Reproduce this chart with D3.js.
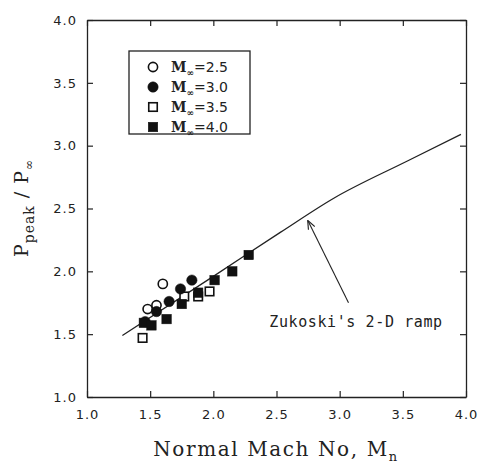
<!DOCTYPE html>
<html>
<head>
  <script src="https://d3js.org/d3.v7.min.js"></script>
  <style>
    body { margin: 0; background: #fff; }
    text { fill: #222; }
  </style>
</head>
<body>
<div id="chart"></div>
<script>
// data
var m25 = [[1.48, 1.70], [1.55, 1.73], [1.60, 1.90]];
var m30 = [[1.46, 1.60], [1.55, 1.68], [1.65, 1.76], [1.74, 1.86], [1.83, 1.93]];
var m35 = [[1.44, 1.47], [1.77, 1.80], [1.88, 1.80], [1.97, 1.84]];
var m40 = [[1.45, 1.59], [1.51, 1.57], [1.63, 1.62], [1.75, 1.74], [1.88, 1.83], [2.01, 1.93], [2.15, 2.00], [2.28, 2.13]];
var zukoski = [[1.28, 1.49], [2.0, 1.96], [2.53, 2.31], [2.95, 2.58], [3.54, 2.88], [3.96, 3.09]];
var ticks = [1.0, 1.5, 2.0, 2.5, 3.0, 3.5, 4.0];
var legendLabels = ["2.5", "3.0", "3.5", "4.0"];

var width = 481, height = 466;
var margin = { top: 20, right: 15, bottom: 69, left: 87 };

var svg = d3.select("#chart").append("svg")
  .attr("width", width)
  .attr("height", height);

var x = d3.scaleLinear().domain([1, 4]).range([margin.left, width - margin.right]);
var y = d3.scaleLinear().domain([1, 4]).range([height - margin.bottom, margin.top]);

var ink = "#222";

// frame with inward ticks
function styleAxis(g) {
  g.select(".domain").attr("stroke", ink).attr("stroke-width", 1.3);
  g.selectAll(".tick line").attr("stroke", ink).attr("stroke-width", 1.2);
  g.selectAll(".tick text")
    .style("font-family", "DejaVu Sans")
    .style("font-size", "13px")
    .style("letter-spacing", "1px")
    .attr("fill", ink);
}

svg.append("g")
  .attr("transform", "translate(0," + y(1) + ")")
  .call(d3.axisBottom(x).tickValues(ticks).tickFormat(d3.format(".1f")).tickSizeInner(-6).tickSizeOuter(0).tickPadding(13))
  .call(styleAxis);
svg.append("g")
  .attr("transform", "translate(0," + y(4) + ")")
  .call(d3.axisTop(x).tickValues(ticks).tickFormat("").tickSizeInner(-6).tickSizeOuter(0))
  .call(styleAxis);
svg.append("g")
  .attr("transform", "translate(" + x(1) + ",0)")
  .call(d3.axisLeft(y).tickValues(ticks).tickFormat(d3.format(".1f")).tickSizeInner(-6).tickSizeOuter(0).tickPadding(10))
  .call(styleAxis);
svg.append("g")
  .attr("transform", "translate(" + x(4) + ",0)")
  .call(d3.axisRight(y).tickValues(ticks).tickFormat("").tickSizeInner(-6).tickSizeOuter(0))
  .call(styleAxis);

// Zukoski line
var line = d3.line()
  .x(function(d) { return x(d[0]); })
  .y(function(d) { return y(d[1]); })
  .curve(d3.curveMonotoneX);
svg.append("path")
  .datum(zukoski)
  .attr("d", line)
  .attr("fill", "none")
  .attr("stroke", ink)
  .attr("stroke-width", 1.3);

// markers
function drawMarkers(data, shape, filled) {
  var g = svg.append("g");
  data.forEach(function(d) {
    var cx = x(d[0]), cy = y(d[1]);
    var m;
    if (shape === "circle") {
      m = g.append("circle").attr("cx", cx).attr("cy", cy).attr("r", filled ? 5.2 : 4.6);
    } else {
      var s = filled ? 9.5 : 8.5;
      m = g.append("rect").attr("x", cx - s / 2).attr("y", cy - s / 2).attr("width", s).attr("height", s);
    }
    m.attr("fill", filled ? "#111" : "#fff")
      .attr("stroke", "#111")
      .attr("stroke-width", filled ? 0.5 : 1.6);
  });
}
drawMarkers(m25, "circle", false);
drawMarkers(m35, "rect", false);
drawMarkers(m30, "circle", true);
drawMarkers(m40, "rect", true);

// annotation
svg.append("defs").append("marker")
  .attr("id", "arr")
  .attr("viewBox", "0 0 10 10")
  .attr("refX", 9).attr("refY", 5)
  .attr("markerWidth", 8).attr("markerHeight", 8)
  .attr("orient", "auto")
  .append("path").attr("d", "M0,1 L10,5 L0,9").attr("fill", "none").attr("stroke", ink).attr("stroke-width", 1.3);

svg.append("line")
  .attr("x1", x(3.07)).attr("y1", y(1.75))
  .attr("x2", x(2.75)).attr("y2", y(2.40))
  .attr("stroke", ink).attr("stroke-width", 1.1)
  .attr("marker-end", "url(#arr)");

svg.append("text")
  .attr("x", 356).attr("y", 327)
  .attr("text-anchor", "middle")
  .style("font-family", "DejaVu Sans Mono")
  .style("font-size", "15px")
  .style("letter-spacing", "0.6px")
  .text("Zukoski's 2-D ramp");

// legend
var lg = svg.append("g");
lg.append("rect")
  .attr("x", 129).attr("y", 51).attr("width", 121).attr("height", 83)
  .attr("fill", "#fff").attr("stroke", ink).attr("stroke-width", 1.3);
var legendShapes = [["circle", false], ["circle", true], ["rect", false], ["rect", true]];
legendLabels.forEach(function(lab, i) {
  var cy = 67 + i * 20, cx = 153;
  var sh = legendShapes[i];
  var m;
  if (sh[0] === "circle") {
    m = lg.append("circle").attr("cx", cx).attr("cy", cy).attr("r", sh[1] ? 5.2 : 4.6);
  } else {
    var s = sh[1] ? 9.5 : 8.5;
    m = lg.append("rect").attr("x", cx - s / 2).attr("y", cy - s / 2).attr("width", s).attr("height", s);
  }
  m.attr("fill", sh[1] ? "#111" : "#fff").attr("stroke", "#111").attr("stroke-width", sh[1] ? 0.5 : 1.6);
  var t = lg.append("text")
    .attr("x", 171).attr("y", cy + 5)
    .style("font-family", "DejaVu Serif")
    .style("font-size", "14px")
    .style("font-weight", "bold");
  t.append("tspan").text("M");
  t.append("tspan").attr("dy", 4).style("font-size", "9px").text("∞");
  t.append("tspan").attr("dy", -4).style("font-family", "DejaVu Sans").style("font-weight", "normal").text("=" + lab);
});

// axis titles
var xt = svg.append("text")
  .attr("x", 276).attr("y", 456)
  .attr("text-anchor", "middle")
  .style("font-family", "DejaVu Serif")
  .style("font-size", "20px")
  .style("letter-spacing", "1.6px");
xt.append("tspan").text("Normal Mach No, M");
xt.append("tspan").attr("dy", 5).style("font-size", "13px").text("n");

var yt = svg.append("text")
  .attr("transform", "translate(28,208) rotate(-90)")
  .attr("text-anchor", "middle")
  .style("font-family", "DejaVu Serif")
  .style("font-size", "19px")
  .style("letter-spacing", "1px");
yt.append("tspan").text("P");
yt.append("tspan").attr("dy", 6).style("font-size", "14px").text("peak");
yt.append("tspan").attr("dy", -6).text(" / P");
yt.append("tspan").attr("dy", 5).style("font-size", "12px").text("∞");
</script>
</body>
</html>
